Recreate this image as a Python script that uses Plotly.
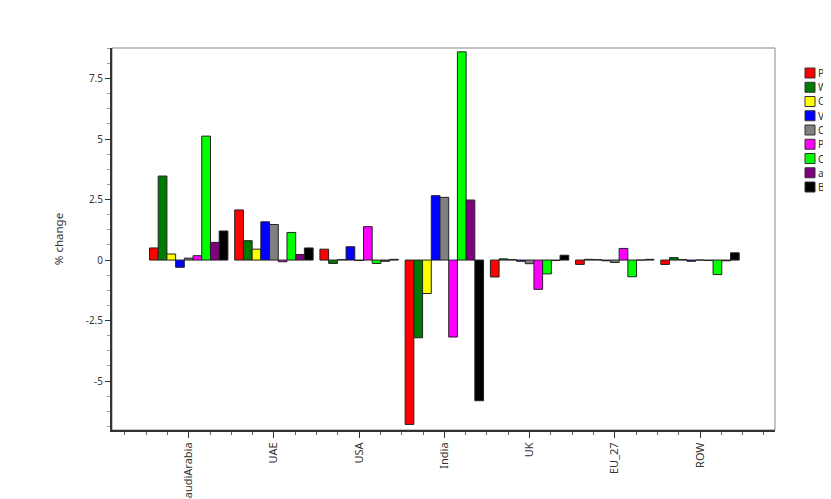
import plotly.graph_objects as go

regions = ["SaudiArabia", "UAE", "USA", "India", "UK", "EU_27", "ROW"]
sectors = ["Paddy rice", "Wheat", "Cereal grains nec", "Vegetables, fruit, nuts",
           "Oil seeds", "Plant-based fibers", "Crops nec", "animal products nec",
           "Bovine meat products"]
colors = ["#ff0000", "#007a00", "#ffff00", "#0000ff", "#808080",
          "#ff00ff", "#00ff00", "#800080", "#000000"]

# % change by sector for each region
paddy      = [0.50, 2.07, 0.45, -6.79, -0.70, -0.18, -0.18]
wheat      = [3.47, 0.80, -0.14, -3.21, 0.05, 0.03, 0.10]
cereal     = [0.25, 0.45, 0.02, -1.38, 0.02, 0.02, 0.02]
vegetables = [-0.30, 1.58, 0.55, 2.66, -0.05, -0.03, -0.05]
oilseeds   = [0.08, 1.47, -0.02, 2.59, -0.15, -0.10, 0.00]
fibres     = [0.18, -0.07, 1.38, -3.18, -1.21, 0.48, -0.02]
crops      = [5.12, 1.14, -0.14, 8.60, -0.57, -0.69, -0.60]
animal     = [0.73, 0.23, -0.05, 2.48, -0.02, 0.00, -0.03]
bovine     = [1.20, 0.50, 0.03, -5.81, 0.20, 0.03, 0.30]
series = [paddy, wheat, cereal, vegetables, oilseeds, fibres, crops, animal, bovine]

xpos = list(range(len(regions)))

# page body has an 8px margin, so the figure is drawn 8px in
W, H = 823, 491
ML, MT, MR, MB = 104, 40, 56, 69
PW, PH = W - ML - MR, H - MT - MB

def px_x(x):  # window pixel -> paper x
    return (x - 8 - ML) / PW

def px_y(y):  # window pixel -> paper y
    return 1 - (y - 8 - MT) / PH

fig = go.Figure()
for name, col, vals in zip(sectors, colors, series):
    fig.add_trace(go.Bar(
        x=xpos, y=vals, name=name,
        marker=dict(color=col, line=dict(color="#222222", width=1)),
    ))

font_family = "Noto Sans, Open Sans, sans-serif"

shapes = [dict(type="rect", xref="paper", yref="paper", x0=0, x1=1, y0=0, y1=1,
               line=dict(color="#888888", width=1), layer="below")]
annotations = []
for i, (name, col) in enumerate(zip(sectors, colors)):
    cy = 73 + i * 14.25
    shapes.append(dict(type="rect", xref="paper", yref="paper",
                       x0=px_x(805), x1=px_x(815), y0=px_y(cy + 5), y1=px_y(cy - 5),
                       fillcolor=col, line=dict(color="#333333", width=1)))
    annotations.append(dict(xref="paper", yref="paper", x=px_x(816), y=px_y(cy),
                            xanchor="left", yanchor="middle", text=name, showarrow=False,
                            font=dict(size=10, color="#333333")))

fig.update_layout(
    width=W, height=H,
    margin=dict(l=ML, r=MR, t=MT, b=MB, autoexpand=False),
    paper_bgcolor="white", plot_bgcolor="white",
    barmode="group", bargap=0.08, bargroupgap=0,
    font=dict(family=font_family, size=10, color="#333333"),
    showlegend=False,
    shapes=shapes, annotations=annotations,
)

fig.update_xaxes(
    range=[-0.9, 6.88], tickmode="array", tickvals=xpos, ticktext=regions,
    tickangle=-90, ticks="outside", ticklen=6, tickcolor="#333333",
    showline=True, linecolor="#333333", linewidth=2, showgrid=False, zeroline=False,
    minor=dict(dtick=0.25, tick0=0, ticks="outside", ticklen=3, tickcolor="#666666", showgrid=False),
    tickfont=dict(size=11),
)
fig.update_yaxes(
    range=[-7.02, 8.76], tickmode="array", tickvals=[-5, -2.5, 0, 2.5, 5, 7.5],
    ticktext=["-5", "-2.5", "0", "2.5", "5", "7.5"],
    ticks="outside", ticklen=5, tickcolor="#333333",
    showline=True, linecolor="#333333", linewidth=2, showgrid=False, zeroline=False,
    minor=dict(dtick=0.625, tick0=0, ticks="outside", ticklen=3, tickcolor="#999999", showgrid=False),
    title=dict(text="% change", font=dict(size=11.5), standoff=20),
    tickfont=dict(size=10),
)

fig.write_html("out.html")
